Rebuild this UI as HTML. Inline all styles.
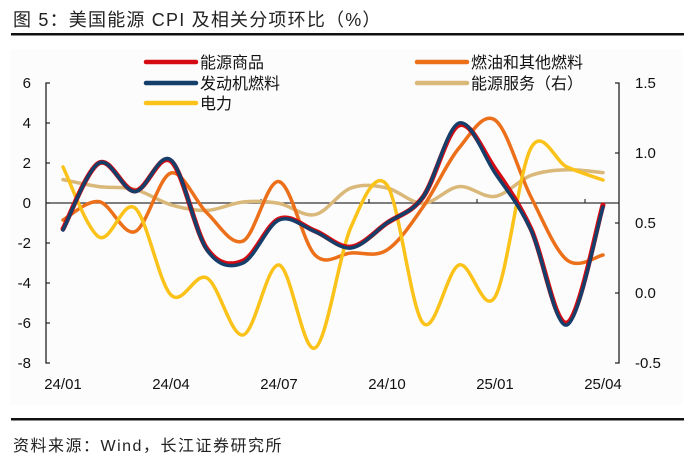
<!DOCTYPE html>
<html><head><meta charset="utf-8">
<style>
body{margin:0;background:#fff;width:693px;height:471px;overflow:hidden;font-family:"Liberation Sans","Noto Sans CJK SC",sans-serif;}
svg{display:block}
</style></head>
<body>
<svg id="chart" width="693" height="471" viewBox="0 0 693 471" font-family="Liberation Sans, Noto Sans CJK SC, sans-serif">
  <text x="13" y="26" font-size="18" letter-spacing="1.2" fill="#222">图 5：美国能源 CPI 及相关分项环比（%）</text>
  <rect x="11" y="33" width="673" height="2.5" fill="#111"/>
  <rect x="10" y="49" width="672" height="356" fill="#fcfcfc"/>
  <g id="axes"></g>
  <g id="series"></g>
  <g id="legend" font-size="16" fill="#111"></g>
  <rect x="11" y="418" width="673" height="2.5" fill="#111"/>
  <text x="13" y="451" font-size="16" letter-spacing="1.5" fill="#222">资料来源：Wind，长江证券研究所</text>
</svg>
<script>
const months = ["24/01","24/02","24/03","24/04","24/05","24/06","24/07","24/08","24/09","24/10","24/11","24/12","25/01","25/02","25/03","25/04"];
const xLabels = ["24/01","24/04","24/07","24/10","25/01","25/04"];
const leftTicks = [6,4,2,0,-2,-4,-6,-8];
const rightTicks = ["1.5","1.0","0.5","0.0","-0.5"];
const energyGoods = [-1.3,2.0,0.6,2.1,-2.3,-2.9,-0.8,-1.4,-2.2,-1.0,0.3,3.9,1.7,-1.3,-6.0,-0.1];
const motorFuel = [-1.35,2.0,0.57,2.15,-2.35,-3.0,-0.85,-1.43,-2.25,-1.0,0.3,4.0,1.5,-1.35,-6.1,-0.2];
const fuelOil = [-0.85,0.07,-1.43,1.5,-0.5,-1.9,1.07,-2.6,-2.5,-2.35,-0.2,2.75,4.15,0.3,-2.85,-2.6];
const electricity = [1.8,-1.7,-0.25,-4.6,-3.75,-6.6,-3.1,-7.25,-1.2,0.9,-6.0,-3.1,-4.7,2.75,1.8,1.15];
const energyServices = [0.81,0.76,0.74,0.63,0.59,0.65,0.64,0.56,0.75,0.75,0.64,0.76,0.69,0.84,0.88,0.86];

const NS="http://www.w3.org/2000/svg";
const X0=63, DX=36, AXL=46, AXR=619, YT=83, YB=363;
const xOf=i=>X0+i*DX;
const yL=v=>YT+(6-v)*(YB-YT)/14;
const yR=v=>YT+(1.5-v)*(YB-YT)/2;
function mk(tag,attrs,parent){const e=document.createElementNS(NS,tag);for(const k in attrs)e.setAttribute(k,attrs[k]);parent.appendChild(e);return e;}
const axes=document.getElementById('axes');
let a=mk('path',{d:`M${AXL+4} ${YT}H${AXL}V${YB}H${AXL+4}`,stroke:'#222','stroke-width':1.3,fill:'none'},axes);


a=mk('path',{d:`M${AXR-4} ${YT}H${AXR}V${YB}H${AXR-4}`,stroke:'#222','stroke-width':1.3,fill:'none'},axes);


leftTicks.forEach(v=>{
  const y=yL(v);
  if(v!==6&&v!==-8){const t=mk('line',{x1:AXL,x2:AXL+4,y1:y,y2:y,stroke:'#222','stroke-width':1.2},axes);
  
  }
  const tx=mk('text',{x:31,y:y+5,'text-anchor':'end','font-size':15,fill:'#111'},axes);tx.textContent=v;
  
  
});
rightTicks.forEach(s=>{
  const y=yR(parseFloat(s));
  if(s!=="1.5"&&s!=="-0.5"){const t=mk('line',{x1:AXR-4,x2:AXR,y1:y,y2:y,stroke:'#222','stroke-width':1.2},axes);
  
  }
  const tx=mk('text',{x:635,y:y+5,'font-size':15,fill:'#111'},axes);tx.textContent=s;
  
  
});
a=mk('line',{x1:AXL,x2:AXR,y1:yL(0),y2:yL(0),stroke:'#333','stroke-width':1.2},axes);


for(let k=0;k<5;k++){const x=xOf(2.5+3*k);
  const t=mk('line',{x1:x,x2:x,y1:yL(0),y2:yL(0)-4,stroke:'#333','stroke-width':1.2},axes);
  
  }
xLabels.forEach(l=>{
  const i=months.indexOf(l);
  const tx=mk('text',{x:xOf(i),y:389,'text-anchor':'middle','font-size':15,fill:'#111'},axes);tx.textContent=l;
  
  
});
function smooth(pts){
  let d=`M${pts[0][0]} ${pts[0][1]}`;
  for(let i=0;i<pts.length-1;i++){
    const p0=pts[i-1]||pts[i],p1=pts[i],p2=pts[i+1],p3=pts[i+2]||p2;
    const c1=[p1[0]+(p2[0]-p0[0])/6,p1[1]+(p2[1]-p0[1])/6];
    const c2=[p2[0]-(p3[0]-p1[0])/6,p2[1]-(p3[1]-p1[1])/6];
    d+=` C${c1[0]} ${c1[1]},${c2[0]} ${c2[1]},${p2[0]} ${p2[1]}`;
  }
  return d;
}
const series=document.getElementById('series');
function draw(vals,yf,color,w,name){
  const p=mk('path',{d:smooth(vals.map((v,i)=>[xOf(i),yf(v)])),stroke:color,'stroke-width':w,fill:'none','stroke-linecap':'round','stroke-linejoin':'round'},series);
  
  
}
draw(energyServices,yR,'#d9b879',3.5,'energy-services-line');
draw(fuelOil,yL,'#ec6f1a',3.5,'fuel-oil-line');
draw(electricity,yL,'#fbc21a',3.5,'electricity-line');
draw(energyGoods,yL,'#d40b12',5,'energy-goods-line');
draw(motorFuel,yL,'#143f6b',3.5,'motor-fuel-line');
const legend=document.getElementById('legend');
[["能源商品","#d40b12",144,62,"legend-energy-goods"],["发动机燃料","#143f6b",144,83,"legend-motor-fuel"],["电力","#fbc21a",144,103,"legend-electricity"],
 ["燃油和其他燃料","#ec6f1a",415,62,"legend-fuel-oil"],["能源服务（右）","#d9b879",415,83,"legend-energy-services"]].forEach(e=>{
  const g=mk('g',{},legend);
  
  
  mk('line',{x1:e[2]+2,x2:e[2]+52,y1:e[3],y2:e[3],stroke:e[1],'stroke-width':4.5,'stroke-linecap':'round'},g);
  const t=mk('text',{x:e[2]+56,y:e[3]+6},g);t.textContent=e[0];
});
</script>
</body></html>
